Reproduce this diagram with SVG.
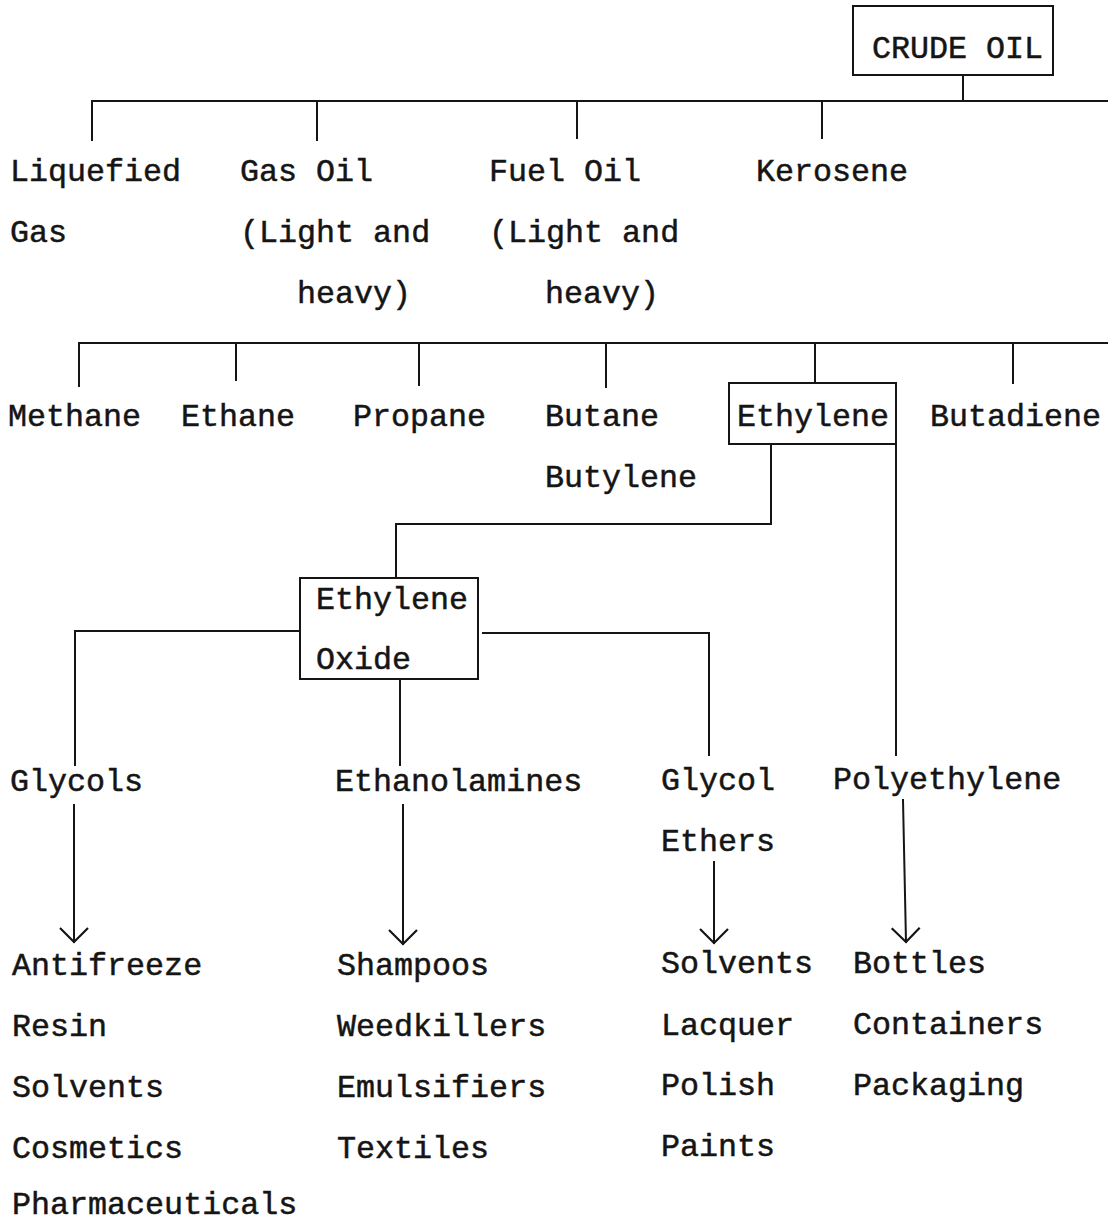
<svg xmlns="http://www.w3.org/2000/svg" width="1108" height="1225" viewBox="0 0 1108 1225">
  <style>
    text { font-family: "Liberation Mono", "DejaVu Sans Mono", monospace; font-size: 31.7px; fill: #151515; stroke: #151515; stroke-width: 0.5px; }
    .ln { fill: none; stroke: #151515; stroke-width: 2; stroke-linecap: square; }
    .box { fill: none; stroke: #151515; stroke-width: 2; }
  </style>
  <defs>
    <marker id="vee" markerUnits="userSpaceOnUse" markerWidth="40" markerHeight="40" viewBox="-20 -20 40 40" refX="0" refY="0" orient="auto" overflow="visible">
      <path d="M-14,-14 L0,0 L-14,14" fill="none" stroke="#151515" stroke-width="2.2" stroke-linejoin="miter"/>
    </marker>
  </defs>
  <rect width="1108" height="1225" fill="#ffffff"/>

  <!-- connectors -->
  <g id="connectors">
    <!-- crude oil fractions -->
    <path class="ln" d="M963,75 V101"/>
    <path class="ln" d="M92,101 H1108"/>
    <path class="ln" d="M92,101 V140 M317,101 V140 M577,101 V138 M822,101 V138"/>
    <!-- petrochemical feedstocks -->
    <path class="ln" d="M79,343 H1108"/>
    <path class="ln" d="M79,343 V386 M236,343 V380 M419,343 V385 M606,343 V387 M815,343 V383 M1013,343 V383"/>
    <!-- ethylene to ethylene oxide -->
    <path class="ln" d="M771,444 V524 H396 V578"/>
    <!-- ethylene to polyethylene -->
    <path class="ln" d="M896,444 V755"/>
    <!-- ethylene oxide branches -->
    <path class="ln" d="M300,631 H75 V765"/>
    <path class="ln" d="M483,633 H709 V755"/>
    <path class="ln" d="M400,680 V765"/>
    <!-- product arrows -->
    <path class="ln" d="M74,805 V942" marker-end="url(#vee)"/>
    <path class="ln" d="M403,805 V944" marker-end="url(#vee)"/>
    <path class="ln" d="M714,862 V943" marker-end="url(#vee)"/>
    <path class="ln" d="M903,800 L906,942" marker-end="url(#vee)"/>
  </g>

  <g id="crude-oil">
    <rect class="box" x="853" y="6" width="200" height="69"/>
    <text x="872" y="58">CRUDE OIL</text>
  </g>

  <g id="liquefied-gas"><text x="10" y="181">Liquefied</text><text x="10" y="242">Gas</text></g>
  <g id="gas-oil"><text x="240" y="181">Gas Oil</text><text x="240" y="242">(Light and</text><text x="297" y="303">heavy)</text></g>
  <g id="fuel-oil"><text x="489" y="181">Fuel Oil</text><text x="489" y="242">(Light and</text><text x="545" y="303">heavy)</text></g>
  <g id="kerosene"><text x="756" y="181">Kerosene</text></g>

  <g id="methane"><text x="8" y="426">Methane</text></g>
  <g id="ethane"><text x="181" y="426">Ethane</text></g>
  <g id="propane"><text x="353" y="426">Propane</text></g>
  <g id="butane"><text x="545" y="426">Butane</text><text x="545" y="487">Butylene</text></g>
  <g id="ethylene">
    <rect class="box" x="729" y="383" width="167" height="61"/>
    <text x="737" y="426">Ethylene</text>
  </g>
  <g id="butadiene"><text x="930" y="426">Butadiene</text></g>

  <g id="ethylene-oxide">
    <rect class="box" x="300" y="578" width="178" height="101"/>
    <text x="316" y="609">Ethylene</text>
    <text x="316" y="669">Oxide</text>
  </g>

  <g id="glycols"><text x="10" y="791">Glycols</text></g>
  <g id="ethanolamines"><text x="335" y="791">Ethanolamines</text></g>
  <g id="glycol-ethers"><text x="661" y="790">Glycol</text><text x="661" y="851">Ethers</text></g>
  <g id="polyethylene"><text x="833" y="789">Polyethylene</text></g>

  <g id="glycol-uses">
    <text x="12" y="975">Antifreeze</text>
    <text x="12" y="1036">Resin</text>
    <text x="12" y="1097">Solvents</text>
    <text x="12" y="1158">Cosmetics</text>
    <text x="12" y="1214">Pharmaceuticals</text>
  </g>
  <g id="ethanolamine-uses">
    <text x="337" y="975">Shampoos</text>
    <text x="337" y="1036">Weedkillers</text>
    <text x="337" y="1097">Emulsifiers</text>
    <text x="337" y="1158">Textiles</text>
  </g>
  <g id="glycol-ether-uses">
    <text x="661" y="973">Solvents</text>
    <text x="661" y="1035">Lacquer</text>
    <text x="661" y="1095">Polish</text>
    <text x="661" y="1156">Paints</text>
  </g>
  <g id="polyethylene-uses">
    <text x="853" y="973">Bottles</text>
    <text x="853" y="1034">Containers</text>
    <text x="853" y="1095">Packaging</text>
  </g>
</svg>
